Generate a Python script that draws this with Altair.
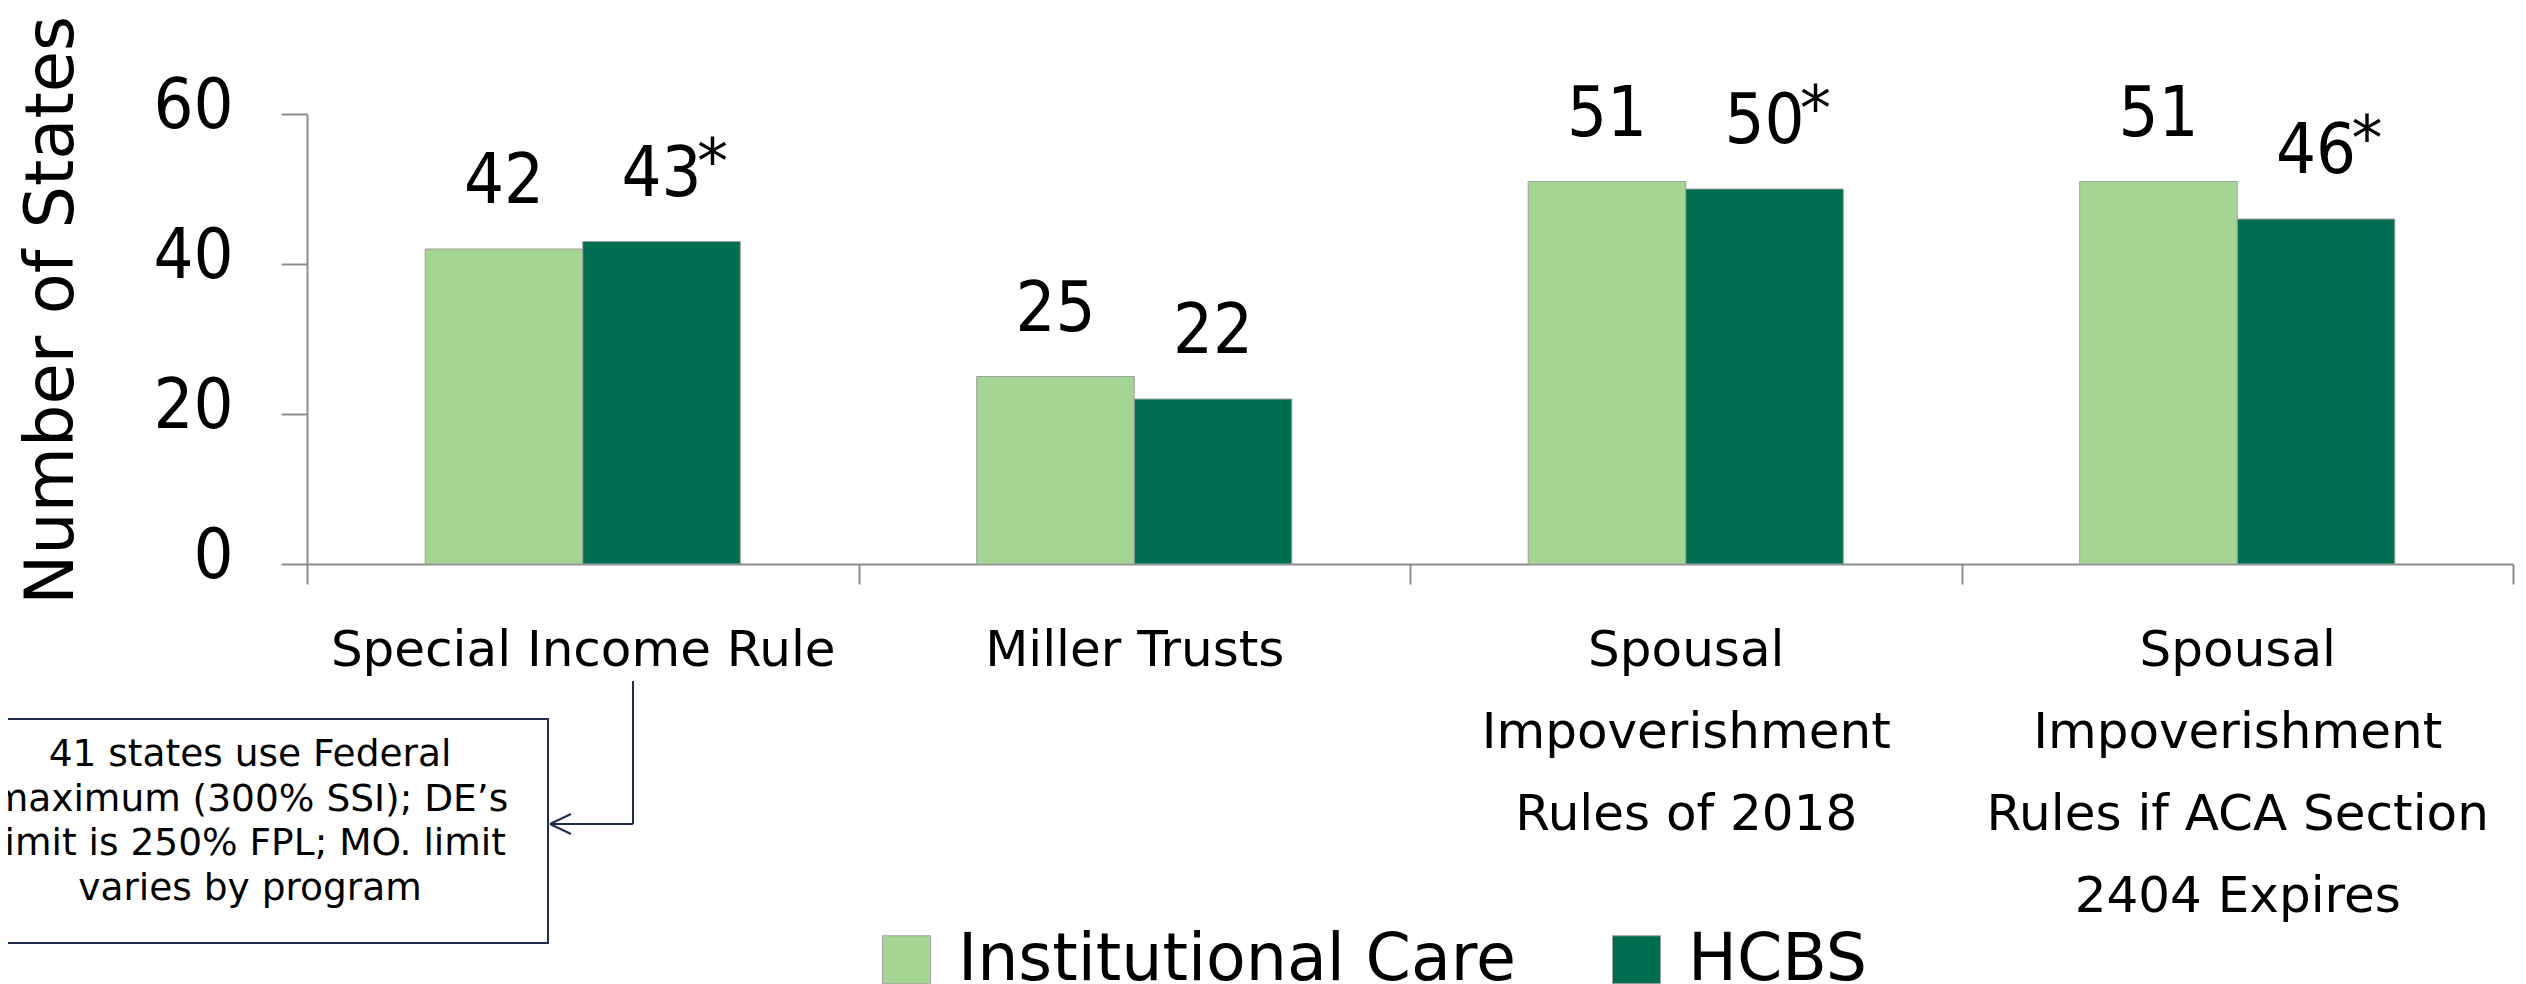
import altair as alt
import pandas as pd

# ---- data ----
categories = ["Special Income Rule", "Miller Trusts",
              "Spousal|Impoverishment|Rules of 2018",
              "Spousal|Impoverishment|Rules if ACA Section|2404 Expires"]
series = ["Institutional Care", "HCBS"]
institutional = [42, 25, 51, 51]
hcbs = [43, 22, 50, 46]
hcbs_marks = ["*", "", "*", "*"]
y_ticks = [0, 20, 40, 60]
colors = ["#A4D593", "#006F51"]
note_lines = ["41 states use Federal",
              "maximum (300% SSI); DE\u2019s",
              "limit is 250% FPL; MO. limit",
              "varies by program"]

rows = []
for c, v in zip(categories, institutional):
    rows.append({"category": c, "series": series[0], "value": v, "mark": ""})
for c, v, m in zip(categories, hcbs, hcbs_marks):
    rows.append({"category": c, "series": series[1], "value": v, "mark": m})
df = pd.DataFrame(rows)

W, H = 2206, 450
AX = "#8c8c8c"
NAVY = "#1f2d4f"
FONT = "DejaVu Sans"
COND = "DejaVu Sans Condensed, DejaVu Sans"

x_enc = alt.X(
    "category:N", sort=categories, title=None,
    scale=alt.Scale(paddingInner=0, paddingOuter=0),
    axis=alt.Axis(tickBand="extent", tickSize=20, tickWidth=2, tickColor=AX,
                  domainColor=AX, domainWidth=2, labelFont=FONT, labelFontSize=50,
                  labelColor="black", labelPadding=41,
                  labelExpr="split(datum.label, '|')", labelLineHeight=82,
                  labelLimit=1200, labelBaseline="top", labelAngle=0,
                  labelOverlap=False))
xo = alt.XOffset("series:N", sort=series,
                 scale=alt.Scale(paddingInner=0, paddingOuter=0.75))
y_enc = alt.Y(
    "value:Q", scale=alt.Scale(domain=[0, 60], nice=False, zero=True),
    axis=alt.Axis(values=y_ticks, title="Number of States", grid=False,
                  tickSize=26, tickWidth=2, tickColor=AX, domainColor=AX,
                  domainWidth=2, labelFont=COND, labelFontSize=70,
                  labelColor="black", labelPadding=48, labelOffset=-8,
                  titleFont=FONT, titleFontSize=67, titleFontWeight="normal",
                  titleColor="black", titleAngle=270, titleX=-235, titleY=196,
                  titleAlign="center", titleBaseline="alphabetic"))

bars = alt.Chart(df).mark_bar(stroke="#a0a0a0", strokeWidth=1).encode(
    x=x_enc, xOffset=xo, y=y_enc,
    color=alt.Color("series:N", sort=series,
                    scale=alt.Scale(domain=series, range=colors),
                    legend=alt.Legend(title=None, orient="none", legendX=567,
                                      legendY=813, direction="horizontal",
                                      symbolType="square", symbolSize=2304,
                                      symbolStrokeWidth=1,
                                      symbolStrokeColor="#a0a0a0",
                                      labelFont=FONT, labelFontSize=65,
                                      labelColor="black", labelOffset=19,
                                      columnPadding=87, padding=0,
                                      labelLimit=1200)))

labels = alt.Chart(df).mark_text(font=COND, fontSize=70, baseline="alphabetic",
                                 dy=-46, color="black").encode(
    x=x_enc, xOffset=xo, y=y_enc, text="value:Q")

stars = alt.Chart(df).mark_text(font=FONT, fontSize=62, baseline="alphabetic",
                                dx=51, dy=-59, color="black").encode(
    x=x_enc, xOffset=xo, y=y_enc, text="mark:N")

one = pd.DataFrame({"k": [0]})
box = alt.Chart(one).mark_rect(fillOpacity=0, stroke=NAVY, strokeWidth=2).encode(
    x=alt.value(-355), x2=alt.value(241), y=alt.value(605), y2=alt.value(829))
note = alt.Chart(one).mark_text(font=FONT, fontSize=37.5, baseline="top",
                                align="center", lineHeight=44.5,
                                color="black").encode(
    x=alt.value(-57), y=alt.value(622), text=alt.value(note_lines))


def seg(x1, y1, x2, y2):
    return alt.Chart(one).mark_rule(color=NAVY, strokeWidth=2).encode(
        x=alt.value(x1), y=alt.value(y1), x2=alt.value(x2), y2=alt.value(y2))


conn = [seg(326, 567, 326, 710), seg(243, 710, 326, 710),
        seg(243, 710, 264, 700), seg(243, 710, 264, 720)]

chart = alt.layer(bars, labels, stars, box, note, *conn).properties(
    width=W, height=H,
    autosize=alt.AutoSizeParams(type="none"),
    padding={"left": 299, "top": 106, "right": 3, "bottom": 420},
).configure_view(strokeWidth=0)

chart.save("out.html", embed_options={"renderer": "svg", "actions": False})
